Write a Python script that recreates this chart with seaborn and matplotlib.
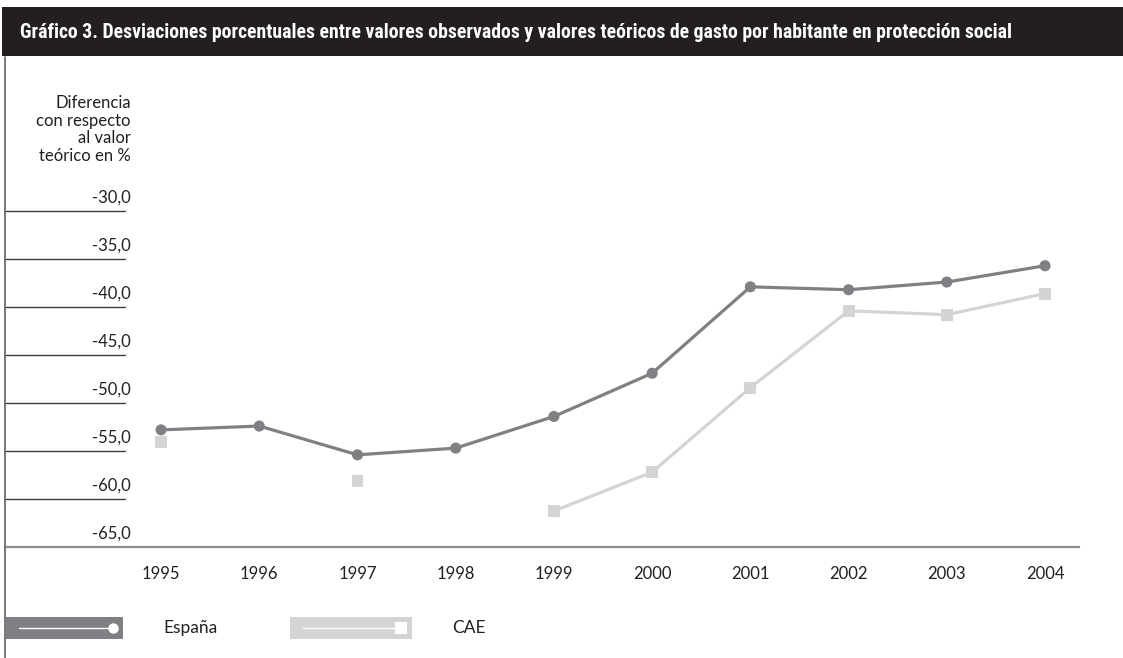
import numpy as np
import pandas as pd
import matplotlib
matplotlib.use("Agg")
import matplotlib.pyplot as plt
import seaborn as sns
from matplotlib import font_manager
from matplotlib.patches import Rectangle
from matplotlib.lines import Line2D

# ---------------- data ----------------
years = ["1995", "1996", "1997", "1998", "1999", "2000", "2001", "2002", "2003", "2004"]
espana = [-52.8, -52.4, -55.4, -54.7, -51.4, -46.9, -37.9, -38.2, -37.4, -35.7]
cae = [-54.1, np.nan, -58.1, np.nan, -61.25, -57.2, -48.4, -40.4, -40.8, -38.6]
y_ticks = [-30, -35, -40, -45, -50, -55, -60, -65]
y_tick_labels = ["-30,0", "-35,0", "-40,0", "-45,0", "-50,0", "-55,0", "-60,0", "-65,0"]
series_names = ["España", "CAE"]
title = ("Gráfico 3. Desviaciones porcentuales entre valores observados y valores "
         "teóricos de gasto por habitante en protección social")
y_title = "Diferencia\ncon respecto\nal valor\nteórico en %"

COL_ES = "#808084"
COL_CAE = "#d3d4d6"
TXT = "#231f20"

W, H = 1123, 658

sns.set_style("white")
available = {f.name for f in font_manager.fontManager.ttflist}
body_font = next((f for f in ["Lato", "Open Sans", "Noto Sans"] if f in available), "DejaVu Sans")
title_font = next((f for f in ["Liberation Sans Narrow", "Roboto Condensed", "Open Sans Condensed",
                               "Liberation Sans", "Roboto"] if f in available), "DejaVu Sans")
plt.rcParams["font.family"] = [body_font, "DejaVu Sans"]

fig = plt.figure(figsize=(W / 100, H / 100), dpi=100)


def fx(x):
    return x / W


def fy(y):
    return 1 - y / H


ax_left, ax_right, ax_top, ax_bottom = 5, 1079, 211, 547
ax = fig.add_axes([fx(ax_left), fy(ax_bottom), fx(ax_right) - fx(ax_left), fy(ax_top) - fy(ax_bottom)])
ax.set_facecolor("none")

df = pd.DataFrame({"pos": np.arange(len(years)), "year": years,
                   series_names[0]: espana, series_names[1]: cae})
df["seg"] = df[series_names[1]].isna().cumsum()
cdf = df.dropna(subset=[series_names[1]])

# CAE line segments + markers
sns.lineplot(data=cdf, x="pos", y=series_names[1], units="seg", estimator=None,
             color=COL_CAE, lw=2.3, ax=ax, zorder=2)
sns.scatterplot(data=cdf, x="pos", y=series_names[1], marker="s", s=74,
                color=COL_CAE, edgecolor="none", ax=ax, zorder=3)
# España
sns.lineplot(data=df, x="pos", y=series_names[0], color=COL_ES, lw=2.3, ax=ax, zorder=4)
sns.scatterplot(data=df, x="pos", y=series_names[0], marker="o", s=64,
                color=COL_ES, edgecolor="none", ax=ax, zorder=5)

ax.set_xlim(-1.589, 9.346)
ax.set_ylim(-65, -30)
ax.set_xlabel("")
ax.set_ylabel("")
for s in ["top", "right", "left"]:
    ax.spines[s].set_visible(False)
ax.spines["bottom"].set_color("#8a8a8a")
ax.spines["bottom"].set_linewidth(1.6)
ax.set_xticks(df["pos"], years)
ax.tick_params(axis="x", length=0, pad=14, labelsize=12, labelcolor=TXT)
ax.set_yticks([])

# short gridlines + labels above them
grid_end = (125 - ax_left) / (ax_right - ax_left)
lab_x = (131 - ax_left) / (ax_right - ax_left)
ytr = ax.get_yaxis_transform()
for v, lbl in zip(y_ticks, y_tick_labels):
    if v != y_ticks[-1]:
        ax.plot([0, grid_end], [v, v], transform=ytr, color="#3c3c3c", lw=1.0,
                clip_on=False, zorder=1)
    ax.annotate(lbl, xy=(lab_x, v), xycoords=ytr, xytext=(0, 9.7),
                textcoords="offset points", ha="right", va="center",
                fontsize=12, color=TXT, annotation_clip=False)

# y-axis title
fig.text(fx(131), fy(95), y_title, ha="right", va="top", fontsize=12,
         linespacing=1.12, color=TXT)

# left vertical rule
fig.add_artist(Line2D([fx(5), fx(5)], [fy(57), fy(658)], color="#6d6d6d", lw=1.3))

# title bar
fig.add_artist(Rectangle((fx(2), fy(56)), fx(1123) - fx(2), fy(7) - fy(56),
                         color="#231f20", lw=0))
t = fig.text(fx(20), fy(32), title, color="white", fontweight="bold",
             family=[title_font, "DejaVu Sans"], fontsize=11, va="center", ha="left")
fig.canvas.draw()
bb = t.get_window_extent()
t.set_fontsize(min(15.0, 11 * (1010 - 20) / bb.width))

# legend
def legend_item(x0, x1, color, mx, marker, msize, label, tx):
    fig.add_artist(Rectangle((fx(x0), fy(639)), fx(x1) - fx(x0), fy(617) - fy(639),
                             color=color, lw=0))
    fig.add_artist(Line2D([fx(x0 + 13), fx(mx)], [fy(628), fy(628)], color="white", lw=1.0))
    fig.add_artist(Line2D([fx(mx)], [fy(628)], marker=marker, markersize=msize,
                          color="white", markeredgewidth=0, lw=0))
    fig.text(fx(tx), fy(628), label, ha="left", va="center", fontsize=12.5, color=TXT)


legend_item(6, 123, COL_ES, 113, "o", 7.5, series_names[0], 163)
legend_item(290, 412, COL_CAE, 401, "s", 8.5, series_names[1], 452)

fig.savefig("out.png", dpi=100)
